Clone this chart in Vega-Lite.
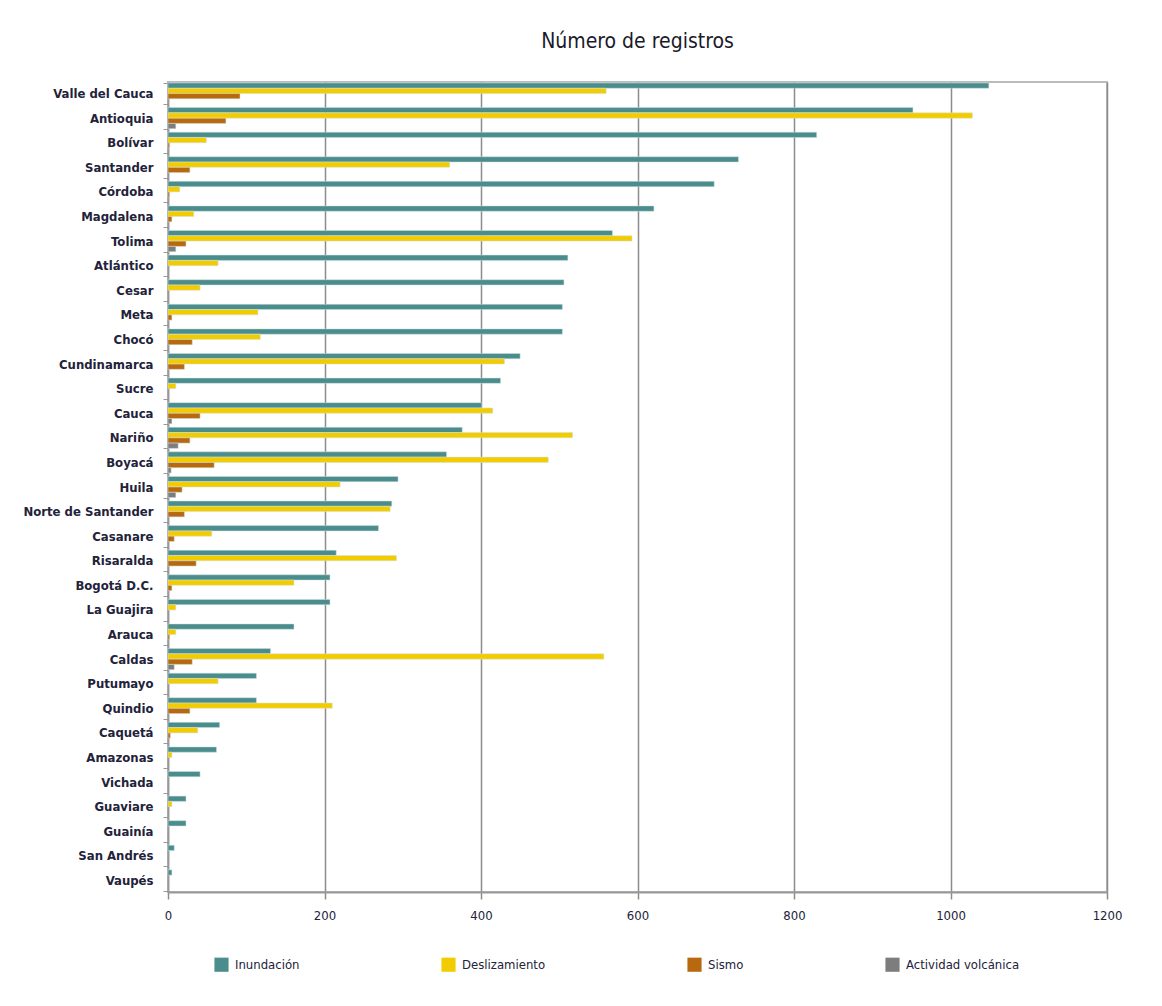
{
  "$schema": "https://vega.github.io/schema/vega-lite/v6.json",
  "width": 939,
  "height": 810,
  "padding": {"left": 22, "top": 31, "right": 50, "bottom": 10},
  "background": "white",
  "title": {"text": "Número de registros", "font": "DejaVu Sans Condensed, sans-serif", "fontSize": 21, "fontWeight": "normal", "color": "#1a1a2a", "anchor": "middle", "offset": 24},
  "data": {"values": [
    {"d": "Valle del Cauca", "t": "Inundación", "v": 1049}, {"d": "Valle del Cauca", "t": "Deslizamiento", "v": 560}, {"d": "Valle del Cauca", "t": "Sismo", "v": 92},
    {"d": "Antioquia", "t": "Inundación", "v": 952}, {"d": "Antioquia", "t": "Deslizamiento", "v": 1028}, {"d": "Antioquia", "t": "Sismo", "v": 74}, {"d": "Antioquia", "t": "Actividad volcánica", "v": 10},
    {"d": "Bolívar", "t": "Inundación", "v": 829}, {"d": "Bolívar", "t": "Deslizamiento", "v": 49}, {"d": "Bolívar", "t": "Sismo", "v": 2},
    {"d": "Santander", "t": "Inundación", "v": 729}, {"d": "Santander", "t": "Deslizamiento", "v": 360}, {"d": "Santander", "t": "Sismo", "v": 28},
    {"d": "Córdoba", "t": "Inundación", "v": 698}, {"d": "Córdoba", "t": "Deslizamiento", "v": 15}, {"d": "Córdoba", "t": "Sismo", "v": 2},
    {"d": "Magdalena", "t": "Inundación", "v": 621}, {"d": "Magdalena", "t": "Deslizamiento", "v": 33}, {"d": "Magdalena", "t": "Sismo", "v": 5},
    {"d": "Tolima", "t": "Inundación", "v": 568}, {"d": "Tolima", "t": "Deslizamiento", "v": 593}, {"d": "Tolima", "t": "Sismo", "v": 23}, {"d": "Tolima", "t": "Actividad volcánica", "v": 10},
    {"d": "Atlántico", "t": "Inundación", "v": 511}, {"d": "Atlántico", "t": "Deslizamiento", "v": 64},
    {"d": "Cesar", "t": "Inundación", "v": 506}, {"d": "Cesar", "t": "Deslizamiento", "v": 41},
    {"d": "Meta", "t": "Inundación", "v": 504}, {"d": "Meta", "t": "Deslizamiento", "v": 115}, {"d": "Meta", "t": "Sismo", "v": 5},
    {"d": "Chocó", "t": "Inundación", "v": 504}, {"d": "Chocó", "t": "Deslizamiento", "v": 118}, {"d": "Chocó", "t": "Sismo", "v": 31},
    {"d": "Cundinamarca", "t": "Inundación", "v": 450}, {"d": "Cundinamarca", "t": "Deslizamiento", "v": 430}, {"d": "Cundinamarca", "t": "Sismo", "v": 21},
    {"d": "Sucre", "t": "Inundación", "v": 425}, {"d": "Sucre", "t": "Deslizamiento", "v": 10},
    {"d": "Cauca", "t": "Inundación", "v": 401}, {"d": "Cauca", "t": "Deslizamiento", "v": 415}, {"d": "Cauca", "t": "Sismo", "v": 41}, {"d": "Cauca", "t": "Actividad volcánica", "v": 5},
    {"d": "Nariño", "t": "Inundación", "v": 376}, {"d": "Nariño", "t": "Deslizamiento", "v": 517}, {"d": "Nariño", "t": "Sismo", "v": 28}, {"d": "Nariño", "t": "Actividad volcánica", "v": 13},
    {"d": "Boyacá", "t": "Inundación", "v": 356}, {"d": "Boyacá", "t": "Deslizamiento", "v": 486}, {"d": "Boyacá", "t": "Sismo", "v": 59}, {"d": "Boyacá", "t": "Actividad volcánica", "v": 4},
    {"d": "Huila", "t": "Inundación", "v": 294}, {"d": "Huila", "t": "Deslizamiento", "v": 220}, {"d": "Huila", "t": "Sismo", "v": 18}, {"d": "Huila", "t": "Actividad volcánica", "v": 10},
    {"d": "Norte de Santander", "t": "Inundación", "v": 286}, {"d": "Norte de Santander", "t": "Deslizamiento", "v": 284}, {"d": "Norte de Santander", "t": "Sismo", "v": 21},
    {"d": "Casanare", "t": "Inundación", "v": 269}, {"d": "Casanare", "t": "Deslizamiento", "v": 56}, {"d": "Casanare", "t": "Sismo", "v": 8},
    {"d": "Risaralda", "t": "Inundación", "v": 215}, {"d": "Risaralda", "t": "Deslizamiento", "v": 292}, {"d": "Risaralda", "t": "Sismo", "v": 36},
    {"d": "Bogotá D.C.", "t": "Inundación", "v": 207}, {"d": "Bogotá D.C.", "t": "Deslizamiento", "v": 161}, {"d": "Bogotá D.C.", "t": "Sismo", "v": 5},
    {"d": "La Guajira", "t": "Inundación", "v": 207}, {"d": "La Guajira", "t": "Deslizamiento", "v": 10},
    {"d": "Arauca", "t": "Inundación", "v": 161}, {"d": "Arauca", "t": "Deslizamiento", "v": 10}, {"d": "Arauca", "t": "Sismo", "v": 2},
    {"d": "Caldas", "t": "Inundación", "v": 131}, {"d": "Caldas", "t": "Deslizamiento", "v": 557}, {"d": "Caldas", "t": "Sismo", "v": 31}, {"d": "Caldas", "t": "Actividad volcánica", "v": 8},
    {"d": "Putumayo", "t": "Inundación", "v": 113}, {"d": "Putumayo", "t": "Deslizamiento", "v": 64},
    {"d": "Quindio", "t": "Inundación", "v": 113}, {"d": "Quindio", "t": "Deslizamiento", "v": 210}, {"d": "Quindio", "t": "Sismo", "v": 28},
    {"d": "Caquetá", "t": "Inundación", "v": 66}, {"d": "Caquetá", "t": "Deslizamiento", "v": 38}, {"d": "Caquetá", "t": "Sismo", "v": 3},
    {"d": "Amazonas", "t": "Inundación", "v": 62}, {"d": "Amazonas", "t": "Deslizamiento", "v": 5},
    {"d": "Vichada", "t": "Inundación", "v": 41},
    {"d": "Guaviare", "t": "Inundación", "v": 23}, {"d": "Guaviare", "t": "Deslizamiento", "v": 5},
    {"d": "Guainía", "t": "Inundación", "v": 23},
    {"d": "San Andrés", "t": "Inundación", "v": 8},
    {"d": "Vaupés", "t": "Inundación", "v": 5}
  ]},
  "mark": {"type": "bar", "stroke": "#cfe3e3", "strokeWidth": 0.5},
  "encoding": {
    "y": {
      "field": "d", "type": "nominal",
      "sort": ["Valle del Cauca", "Antioquia", "Bolívar", "Santander", "Córdoba", "Magdalena", "Tolima", "Atlántico", "Cesar", "Meta", "Chocó", "Cundinamarca", "Sucre", "Cauca", "Nariño", "Boyacá", "Huila", "Norte de Santander", "Casanare", "Risaralda", "Bogotá D.C.", "La Guajira", "Arauca", "Caldas", "Putumayo", "Quindio", "Caquetá", "Amazonas", "Vichada", "Guaviare", "Guainía", "San Andrés", "Vaupés"],
      "scale": {"paddingInner": 0.14, "paddingOuter": 0.04},
      "axis": {"title": null, "tickBand": "extent", "tickSize": 5, "tickColor": "#999999", "domainColor": "#999999", "domainWidth": 1.5, "labelFont": "DejaVu Sans Condensed, sans-serif", "labelFontSize": 13, "labelFontWeight": "bold", "labelColor": "#22223a", "labelPadding": 10, "grid": false}
    },
    "yOffset": {"field": "t", "type": "nominal", "sort": ["Inundación", "Deslizamiento", "Sismo", "Actividad volcánica"], "scale": {"paddingInner": 0}},
    "x": {
      "field": "v", "type": "quantitative",
      "scale": {"domain": [0, 1200], "nice": false},
      "axis": {"title": null, "values": [0, 200, 400, 600, 800, 1000, 1200], "format": "d", "grid": true, "gridColor": "#8c8c8c", "gridWidth": 1.5, "tickColor": "#8c8c8c", "tickSize": 7, "tickWidth": 1.5, "domainColor": "#999999", "domainWidth": 2, "labelFont": "DejaVu Sans Condensed, sans-serif", "labelFontSize": 13, "labelColor": "#22223a", "labelPadding": 10, "labelFlush": false}
    },
    "color": {
      "field": "t", "type": "nominal",
      "sort": ["Inundación", "Deslizamiento", "Sismo", "Actividad volcánica"],
      "scale": {"domain": ["Inundación", "Deslizamiento", "Sismo", "Actividad volcánica"], "range": ["#4b8c8c", "#f2cc00", "#b8690f", "#7d7d7d"]},
      "legend": {"title": null, "orient": "none", "legendX": 46, "legendY": 875, "direction": "horizontal", "symbolType": "square", "symbolSize": 200, "symbolStrokeWidth": 0, "labelFont": "DejaVu Sans Condensed, sans-serif", "labelFontSize": 13, "labelColor": "#22223a", "columnPadding": 141, "labelOffset": 6}
    }
  },
  "config": {"view": {"stroke": "#bbbbbb", "strokeWidth": 2}}
}
